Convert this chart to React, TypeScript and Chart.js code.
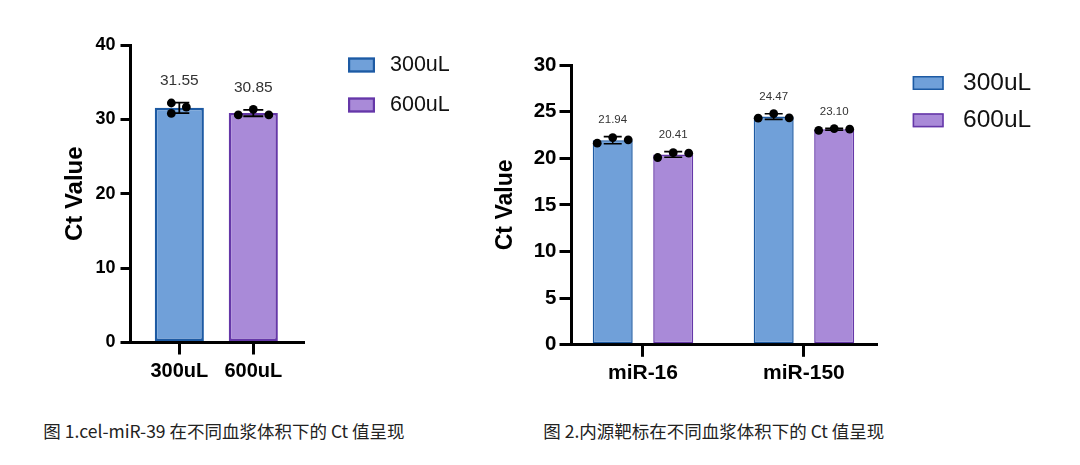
import { useEffect, useRef } from "react";
import { Chart, BarController, BarElement, LinearScale } from "chart.js";

Chart.register(BarController, BarElement, LinearScale);

const FONT = '"Liberation Sans", Arial, Helvetica, sans-serif';
const CJK_FONT = '"Noto Sans CJK SC", "Noto Sans", sans-serif';

const BLUE_FILL = "#70a0d9";
const BLUE_EDGE = "#1d5aa3";
const PURPLE_FILL = "#a98ad8";
const PURPLE_EDGE = "#6537a8";

// Figure 1: cel-miR-39, one bar per plasma volume
const fig1Groups = ["300uL", "600uL"];
const fig1Means = [31.55, 30.85];
const fig1Sd = [0.7, 0.43];
const fig1Replicates = [
  [32.2, 30.8, 31.65],
  [30.6, 31.35, 30.6]
];
const fig1YMax = 40;
const fig1YStep = 10;

// Figure 2: endogenous targets, grouped by volume
const fig2Targets = ["miR-16", "miR-150"];
const fig2Volumes = ["300uL", "600uL"];
const fig2Means300 = [21.94, 24.47];
const fig2Means600 = [20.41, 23.1];
const fig2Sd300 = [0.38, 0.3];
const fig2Sd600 = [0.3, 0.1];
const fig2Reps300 = [
  [21.62, 22.22, 21.98],
  [24.3, 24.78, 24.33]
];
const fig2Reps600 = [
  [20.08, 20.6, 20.55],
  [23.0, 23.18, 23.12]
];
const fig2YMax = 30;
const fig2YStep = 5;

type MarkStyle = {
  labelSize: number;
  labelGap: number;
  capHalf: number;
  errorWidth: number;
  pointR: number;
  legend: {
    gap: number;
    top: number;
    step: number;
    boxW: number;
    boxH: number;
    border: number;
    size: number;
    textGap: number;
  };
};

// error bars, replicate dots, mean labels and the legend on the right
function makeMarks(style: MarkStyle) {
  return {
    id: "marks",
    afterDatasetsDraw(chart: any) {
      const { ctx } = chart;
      const y = chart.scales.y;
      chart.data.datasets.forEach((ds: any, di: number) => {
        const meta = chart.getDatasetMeta(di);
        meta.data.forEach((bar: any, i: number) => {
          const mean = ds.data[i].y;
          if (mean == null) return;
          const sd = ds.sd[i];
          const top = y.getPixelForValue(mean + sd);
          const bottom = y.getPixelForValue(mean - sd);
          ctx.save();
          ctx.strokeStyle = "#000";
          ctx.lineWidth = style.errorWidth;
          ctx.beginPath();
          ctx.moveTo(bar.x, top);
          ctx.lineTo(bar.x, bottom);
          ctx.moveTo(bar.x - style.capHalf, top);
          ctx.lineTo(bar.x + style.capHalf, top);
          ctx.moveTo(bar.x - style.capHalf, bottom);
          ctx.lineTo(bar.x + style.capHalf, bottom);
          ctx.stroke();

          const offs = ds.jitter[i];
          ctx.fillStyle = "#000";
          ds.reps[i].forEach((v: number, k: number) => {
            ctx.beginPath();
            ctx.arc(bar.x + offs[k], y.getPixelForValue(v), style.pointR, 0, Math.PI * 2);
            ctx.fill();
          });

          ctx.fillStyle = "#333";
          ctx.font = `${style.labelSize}px ${FONT}`;
          ctx.textAlign = "center";
          ctx.textBaseline = "middle";
          ctx.fillText(mean.toFixed(2), bar.x, top - style.labelGap);
          ctx.restore();
        });
      });

      const L = style.legend;
      const area = chart.chartArea;
      chart.data.datasets.forEach((ds: any, k: number) => {
        const bx = area.right + L.gap;
        const cy = area.top + L.top + k * L.step;
        ctx.save();
        ctx.fillStyle = ds.backgroundColor;
        ctx.fillRect(bx, cy - L.boxH / 2, L.boxW, L.boxH);
        ctx.lineWidth = L.border;
        ctx.strokeStyle = ds.borderColor;
        ctx.strokeRect(
          bx + L.border / 2,
          cy - L.boxH / 2 + L.border / 2,
          L.boxW - L.border,
          L.boxH - L.border
        );
        ctx.fillStyle = "#111";
        ctx.font = `${L.size}px ${FONT}`;
        ctx.textAlign = "left";
        ctx.textBaseline = "middle";
        ctx.fillText(ds.label, bx + L.boxW + L.textGap, cy);
        ctx.restore();
      });
    }
  };
}

function axisCommon(tickLength: number) {
  return {
    grid: {
      drawOnChartArea: false,
      offset: false,
      color: "#000",
      lineWidth: 3,
      tickLength
    },
    border: { color: "#000", width: 3 }
  };
}

function buildFig1(canvas: HTMLCanvasElement) {
  const fills = [BLUE_FILL, PURPLE_FILL];
  const edges = [BLUE_EDGE, PURPLE_EDGE];
  const jitter = [
    [-8, -8, 7],
    [-15, 0, 15.5]
  ];
  const datasets = fig1Groups.map((g, i) => ({
    label: g,
    data: fig1Groups.map((_, j) => ({ x: j, y: j === i ? fig1Means[i] : null })),
    sd: fig1Groups.map((_, j) => (j === i ? fig1Sd[i] : null)),
    reps: fig1Groups.map((_, j) => (j === i ? fig1Replicates[i] : null)),
    jitter: fig1Groups.map((_, j) => (j === i ? jitter[i] : null)),
    backgroundColor: fills[i],
    borderColor: edges[i],
    borderWidth: 2.5,
    borderSkipped: false,
    skipNull: true,
    categoryPercentage: 0.8,
    barPercentage: 0.83
  }));

  return new Chart(canvas, {
    type: "bar",
    data: { datasets } as any,
    options: {
      animation: false,
      responsive: false,
      layout: { padding: { left: 0, top: 45, right: 176.7, bottom: 17.5 } },
      plugins: { legend: { display: false }, tooltip: { enabled: false } },
      scales: {
        x: {
          type: "linear",
          min: -0.66,
          max: 1.676,
          offset: false,
          afterBuildTicks: (s: any) => {
            s.ticks = fig1Groups.map((_, i) => ({ value: i }));
          },
          afterFit: (s: any) => {
            s.height = 40;
          },
          ...axisCommon(12),
          ticks: {
            callback: (v: any) => fig1Groups[v],
            color: "#000",
            font: { family: FONT, size: 20, weight: "bold" },
            padding: 5,
            maxRotation: 0,
            autoSkip: false
          }
        },
        y: {
          min: 0,
          max: fig1YMax,
          afterFit: (s: any) => {
            s.width = 130.5;
          },
          ...axisCommon(10),
          ticks: {
            stepSize: fig1YStep,
            color: "#000",
            font: { family: FONT, size: 18, weight: "bold" },
            padding: 5
          },
          title: {
            display: true,
            text: "Ct Value",
            color: "#000",
            font: { family: FONT, size: 24, weight: "bold" },
            padding: { top: 60.6, bottom: 0 }
          }
        }
      }
    } as any,
    plugins: [
      makeMarks({
        labelSize: 15.5,
        labelGap: 22,
        capHalf: 10,
        errorWidth: 1.8,
        pointR: 4.4,
        legend: {
          gap: 44.7,
          top: 20,
          step: 40,
          boxW: 27,
          boxH: 15,
          border: 2.2,
          size: 21.5,
          textGap: 15
        }
      })
    ]
  });
}

function buildFig2(canvas: HTMLCanvasElement) {
  const jitter = [-15.5, 0, 15.5];
  const series = [
    { means: fig2Means300, sd: fig2Sd300, reps: fig2Reps300, fill: BLUE_FILL, edge: BLUE_EDGE },
    { means: fig2Means600, sd: fig2Sd600, reps: fig2Reps600, fill: PURPLE_FILL, edge: PURPLE_EDGE }
  ];
  const datasets = series.map((s, i) => ({
    label: fig2Volumes[i],
    data: s.means.map((m, j) => ({ x: j, y: m })),
    sd: s.sd,
    reps: s.reps,
    jitter: s.means.map(() => jitter),
    backgroundColor: s.fill,
    borderColor: s.edge,
    borderWidth: 1.5,
    borderSkipped: false,
    categoryPercentage: 0.7516,
    barPercentage: 0.661
  }));

  return new Chart(canvas, {
    type: "bar",
    data: { datasets } as any,
    options: {
      animation: false,
      responsive: false,
      layout: { padding: { left: 0, top: 65, right: 203.3, bottom: 15.2 } },
      plugins: { legend: { display: false }, tooltip: { enabled: false } },
      scales: {
        x: {
          type: "linear",
          min: -0.444,
          max: 1.452,
          offset: false,
          afterBuildTicks: (s: any) => {
            s.ticks = fig2Targets.map((_, i) => ({ value: i }));
          },
          afterFit: (s: any) => {
            s.height = 40;
          },
          ...axisCommon(12),
          ticks: {
            callback: (v: any) => fig2Targets[v],
            color: "#000",
            font: { family: FONT, size: 21, weight: "bold" },
            padding: 4,
            maxRotation: 0,
            autoSkip: false
          }
        },
        y: {
          min: 0,
          max: fig2YMax,
          afterFit: (s: any) => {
            s.width = 91.5;
          },
          ...axisCommon(12),
          ticks: {
            stepSize: fig2YStep,
            color: "#000",
            font: { family: FONT, size: 20.5, weight: "bold" },
            padding: 3
          },
          title: {
            display: true,
            text: "Ct Value",
            color: "#000",
            font: { family: FONT, size: 23, weight: "bold" },
            padding: { top: 11.9, bottom: 0 }
          }
        }
      }
    } as any,
    plugins: [
      makeMarks({
        labelSize: 11.5,
        labelGap: 17,
        capHalf: 9,
        errorWidth: 1.6,
        pointR: 4.4,
        legend: {
          gap: 36,
          top: 18,
          step: 37.3,
          boxW: 31,
          boxH: 14,
          border: 1.5,
          size: 24.5,
          textGap: 19.3
        }
      })
    ]
  });
}

function Figure({
  left,
  width,
  height,
  build
}: {
  left: number;
  width: number;
  height: number;
  build: (c: HTMLCanvasElement) => Chart;
}) {
  const canvasRef = useRef<HTMLCanvasElement | null>(null);

  useEffect(() => {
    if (!canvasRef.current) return;
    const chart = build(canvasRef.current);
    return () => chart.destroy();
  }, [build]);

  return (
    <canvas
      ref={canvasRef}
      width={width}
      height={height}
      style={{ position: "absolute", left, top: 0, width, height }}
    />
  );
}

const captionStyle: React.CSSProperties = {
  position: "absolute",
  top: 420.2,
  fontFamily: CJK_FONT,
  fontSize: 17.5,
  lineHeight: "22px",
  color: "#222",
  whiteSpace: "nowrap"
};

export default function App() {
  return (
    <div
      style={{
        position: "absolute",
        left: 0,
        top: 0,
        width: 1080,
        height: 465,
        background: "#fff",
        overflow: "hidden"
      }}
    >
      <Figure left={0} width={480} height={400} build={buildFig1} />
      <Figure left={480} width={600} height={400} build={buildFig2} />
      <div style={{ ...captionStyle, left: 43.3 }}>图 1.cel-miR-39 在不同血浆体积下的 Ct 值呈现</div>
      <div style={{ ...captionStyle, left: 543.3 }}>图 2.内源靶标在不同血浆体积下的 Ct 值呈现</div>
    </div>
  );
}
